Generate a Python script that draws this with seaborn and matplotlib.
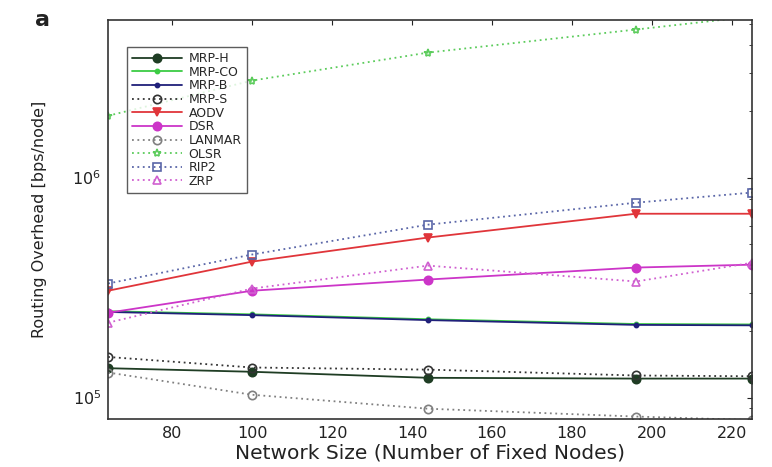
import pandas as pd
import matplotlib.pyplot as plt
import seaborn as sns

# network sizes (number of fixed nodes)
sizes = [64, 100, 144, 196, 225]

protocols = ['MRP-H', 'MRP-CO', 'MRP-B', 'MRP-S', 'AODV', 'DSR', 'LANMAR', 'OLSR', 'RIP2', 'ZRP']

# routing overhead [bps/node]
mrp_h = [1.36e5, 1.31e5, 1.23e5, 1.22e5, 1.22e5]
mrp_co = [2.47e5, 2.39e5, 2.27e5, 2.16e5, 2.15e5]
mrp_b = [2.45e5, 2.37e5, 2.25e5, 2.14e5, 2.13e5]
mrp_s = [1.53e5, 1.37e5, 1.34e5, 1.26e5, 1.25e5]
aodv = [3.06e5, 4.15e5, 5.34e5, 6.85e5, 6.85e5]
dsr = [2.43e5, 3.06e5, 3.44e5, 3.90e5, 4.02e5]
lanmar = [1.30e5, 1.03e5, 8.9e4, 8.2e4, 7.9e4]
olsr = [1.91e6, 2.76e6, 3.70e6, 4.71e6, 5.4e6]
rip2 = [3.30e5, 4.47e5, 6.11e5, 7.69e5, 8.55e5]
zrp = [2.19e5, 3.13e5, 3.98e5, 3.37e5, 4.10e5]

values = [mrp_h, mrp_co, mrp_b, mrp_s, aodv, dsr, lanmar, olsr, rip2, zrp]

rows = []
for name, vals in zip(protocols, values):
    for s, v in zip(sizes, vals):
        rows.append({'size': s, 'overhead': v, 'protocol': name})
df = pd.DataFrame(rows)

palette = {'MRP-H': '#1f3d24', 'MRP-CO': '#3ccc44', 'MRP-B': '#20207a', 'MRP-S': '#333333',
           'AODV': '#e0353a', 'DSR': '#cc35c8', 'LANMAR': '#808080', 'OLSR': '#5ccc5c',
           'RIP2': '#5a66a8', 'ZRP': '#d060d0'}
markers = {'MRP-H': 'o', 'MRP-CO': '.', 'MRP-B': '.', 'MRP-S': 'o', 'AODV': 'v',
           'DSR': 'o', 'LANMAR': 'o', 'OLSR': '*', 'RIP2': 's', 'ZRP': '^'}
dashes = {'MRP-H': '', 'MRP-CO': '', 'MRP-B': '', 'MRP-S': (1, 2), 'AODV': '',
          'DSR': '', 'LANMAR': (1, 2), 'OLSR': (1, 2), 'RIP2': (1, 2), 'ZRP': (1, 2)}
filled = ('MRP-H', 'MRP-CO', 'MRP-B', 'AODV', 'DSR')

sns.set_style('white')
plt.rcParams['font.family'] = ['DejaVu Sans']

fig = plt.figure(figsize=(7.72, 4.67), dpi=100)
ax = fig.add_axes([0.14, 0.103, 0.834, 0.854])

sns.lineplot(data=df, x='size', y='overhead', hue='protocol', style='protocol',
             hue_order=protocols, style_order=protocols, palette=palette,
             markers=markers, dashes=dashes, markersize=6, linewidth=1.3, ax=ax)


def restyle(line, name):
    line.set_markeredgecolor(palette[name])
    line.set_markeredgewidth(1.2)
    line.set_markerfacecolor(palette[name] if name in filled else 'none')


for line, name in zip(ax.get_lines(), protocols):
    restyle(line, name)

ax.set_yscale('log')
ax.set_xlim(64, 225)
ax.set_ylim(8e4, 5.2e6)
ax.set_xticks([80, 100, 120, 140, 160, 180, 200, 220])
ax.tick_params(direction='in', top=True, right=True, which='both', labelsize=11.5,
               colors='#222222', pad=5)
for sp in ax.spines.values():
    sp.set_color('#333333')
    sp.set_linewidth(1.2)

ax.set_xlabel('Network Size (Number of Fixed Nodes)', fontsize=14.5, color='#222222', labelpad=2)
ax.set_ylabel('Routing Overhead [bps/node]', fontsize=11.5, color='#222222', labelpad=18)

leg = ax.legend(loc='upper left', bbox_to_anchor=(0.03, 0.932), borderaxespad=0,
                fontsize=9, frameon=True, fancybox=False, edgecolor='#333333',
                handlelength=4.0, handletextpad=0.5, labelspacing=0.05, borderpad=0.4)
for h, name in zip(leg.legend_handles, protocols):
    restyle(h, name)

fig.text(0.045, 0.945, 'a', fontsize=16, fontweight='bold', color='#222222')

fig.savefig('out.png', dpi=100)
plt.close()
